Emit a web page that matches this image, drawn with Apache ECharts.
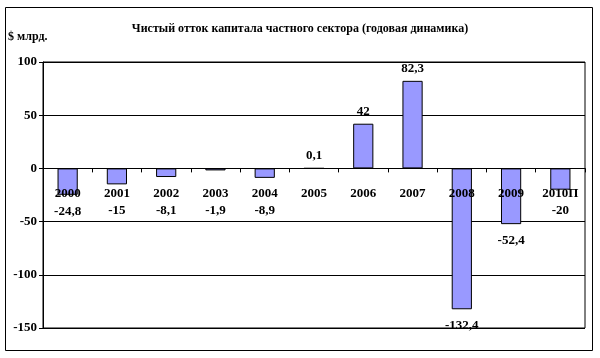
<!DOCTYPE html>
<html><head><meta charset="utf-8">
<script src="https://cdn.jsdelivr.net/npm/echarts@6/dist/echarts.min.js"></script>
<style>html,body{margin:0;padding:0;background:#fff}#c{width:600px;height:358px}</style>
</head><body><div id="c"></div>
<script>
const titleText = 'Чистый отток капитала частного сектора (годовая динамика)';
const unitText = '$ млрд.';
const categories = ['2000','2001','2002','2003','2004','2005','2006','2007','2008','2009','2010П'];
const values = [-24.8, -15, -8.1, -1.9, -8.9, 0.1, 42, 82.3, -132.4, -52.4, -20];
const yTicks = [-150, -100, -50, 0, 50, 100];

const FONT = '"Liberation Serif", "Times New Roman", serif';
const chart = echarts.init(document.getElementById('c'), null, {renderer: 'canvas'});
const fmt = v => String(v).replace('.', ',');

const gridTop = 62, gridBottom = 30, H = 358;
const yMin = yTicks[0], yMax = yTicks[yTicks.length - 1];
const plotH = H - gridTop - gridBottom;
const zeroOffset = -plotH * (0 - yMin) / (yMax - yMin);

chart.setOption({
  animation: false,
  backgroundColor: '#fff',
  textStyle: {fontFamily: FONT},
  title: {
    text: titleText, left: 'center', top: 18,
    textStyle: {fontFamily: FONT, fontSize: 12, fontWeight: 'bold', color: '#000'}
  },
  graphic: [
    {type: 'rect', shape: {x: 5.5, y: 7.5, width: 587, height: 343}, style: {fill: null, stroke: '#000', lineWidth: 1}, z: -1, silent: true},
    {type: 'text', left: 8, top: 31, style: {text: unitText, fontFamily: FONT, fontSize: 12, fontWeight: 'bold', fill: '#000'}}
  ],
  grid: {left: 43, right: 15, top: gridTop, bottom: gridBottom, show: true, borderColor: '#000', borderWidth: 1, backgroundColor: 'transparent'},
  xAxis: {
    type: 'category', data: categories, z: 10, position: 'bottom', offset: zeroOffset,
    axisLine: {onZero: false, lineStyle: {color: '#000', width: 1}},
    axisTick: {show: true, inside: false, length: 4, alignWithLabel: false, lineStyle: {color: '#000'}},
    axisLabel: {color: '#000', fontFamily: FONT, fontSize: 13, fontWeight: 'bold', margin: 19, interval: 0}
  },
  yAxis: {
    type: 'value', min: yMin, max: yMax, interval: 50,
    axisLine: {show: true, lineStyle: {color: '#000'}},
    axisTick: {show: true, length: 4, lineStyle: {color: '#000'}},
    axisLabel: {color: '#000', fontFamily: FONT, fontSize: 13, fontWeight: 'bold', margin: 6},
    splitLine: {show: true, lineStyle: {color: '#000', width: 1}}
  },
  series: [{
    type: 'bar', data: values, barWidth: '41%',
    itemStyle: {color: '#9999FF', borderColor: '#000', borderWidth: 1},
    label: {
      show: true, color: '#000', fontFamily: FONT, fontSize: 13, fontWeight: 'bold',
      position: 'top', distance: 6,
      formatter: p => fmt(p.value)
    },
    labelLayout: function (params) {
      const v = values[params.dataIndex];
      const r = params.rect;
      if (v < 0) {
        return {
          x: r.x + r.width / 2,
          y: r.y + Math.max(r.height + 10, 36) + params.labelRect.height / 2,
          align: 'center',
          verticalAlign: 'middle'
        };
      }
      return {};
    }
  }]
});
</script></body></html>
